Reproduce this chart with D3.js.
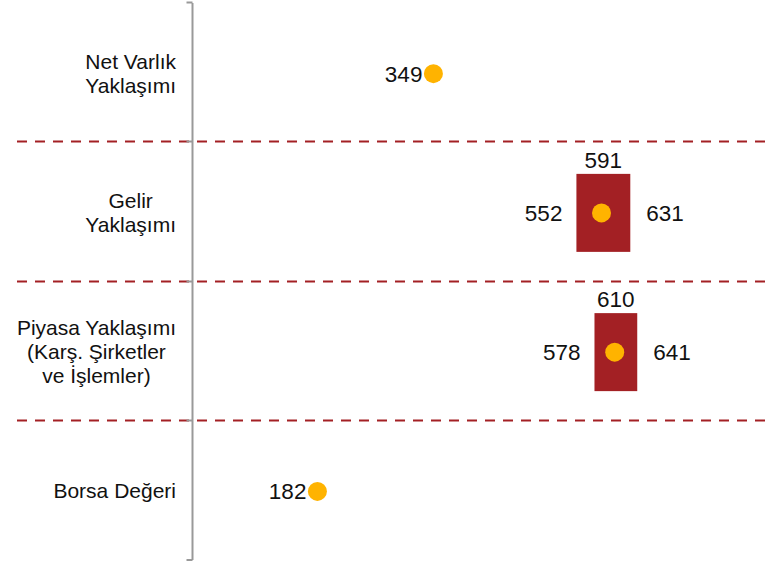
<!DOCTYPE html>
<html>
<head>
    <script src="https://d3js.org/d3.v7.min.js"></script>
    <style>
        body { margin: 0; background: white; }
        text { font-family: "Liberation Sans", Arial, sans-serif; font-size: 21px; fill: #111; }
        text.num { font-size: 22.5px; }
    </style>
</head>
<body>
<svg id="chart"></svg>
<script>
    // categories (top to bottom), each line of a label is an entry
    const categories = [
        ['Net Varlık', 'Yaklaşımı'],
        ['Gelir', 'Yaklaşımı'],
        ['Piyasa Yaklaşımı', '(Karş. Şirketler', 've İşlemler)'],
        ['Borsa Değeri']
    ];
    const pointValues = [349, 591, 610, 182];
    const lowValues = [null, 552, 578, null];
    const highValues = [null, 631, 641, null];

    const W = 766, H = 563;
    const svg = d3.select('#chart').attr('width', W).attr('height', H);

    const x = d3.scaleLinear().domain([0, 800]).range([190, 190 + 800 * 0.6946]);
    const y = d3.scaleBand().domain(d3.range(categories.length)).range([3, 560]);

    const red = '#A32024', gold = '#FFB300';

    // dashed separators between categories
    svg.selectAll('.sep')
       .data(d3.range(1, categories.length))
       .join('line')
       .attr('x1', 17).attr('x2', W)
       .attr('y1', d => Math.round(y(d)) - 0.5).attr('y2', d => Math.round(y(d)) - 0.5)
       .attr('stroke', red).attr('stroke-width', 2)
       .attr('stroke-dasharray', '10,8');

    // left axis as bracket
    const axisX = 192.5;
    svg.append('line').attr('x1', axisX).attr('x2', axisX).attr('y1', 3).attr('y2', 560)
       .attr('stroke', '#999').attr('stroke-width', 2);
    svg.selectAll('.tick')
       .data(d3.range(0, categories.length + 1))
       .join('line')
       .attr('x1', axisX - 6).attr('x2', axisX)
       .attr('y1', d => d === categories.length ? 560 : Math.round(y(d)) - 0.5)
       .attr('y2', d => d === categories.length ? 560 : Math.round(y(d)) - 0.5)
       .attr('stroke', '#999').attr('stroke-width', 2);

    // category labels: centred lines, block right-aligned next to the axis
    const labelRight = 176;
    categories.forEach((lines, i) => {
        const cy = y(i) + y.bandwidth() / 2;
        const lh = 24;
        const t = svg.append('text').attr('text-anchor', 'middle');
        const spans = lines.map((l, j) =>
            t.append('tspan')
             .attr('y', cy + (j - (lines.length - 1) / 2) * lh + 8)
             .text(l));
        const maxW = d3.max(spans, s => s.node().getComputedTextLength());
        spans.forEach(s => s.attr('x', labelRight - maxW / 2));
    });

    const boxH = 78;
    // range boxes
    categories.forEach((c, i) => {
        const cy = y(i) + y.bandwidth() / 2;
        if (lowValues[i] !== null) {
            const x0 = x(lowValues[i]) + 3, x1 = x(highValues[i]) + 2;
            svg.append('rect')
               .attr('x', x0).attr('y', cy - boxH / 2 + 1)
               .attr('width', x1 - x0).attr('height', boxH)
               .attr('fill', red);
            svg.append('text').attr('class', 'num').attr('x', x0 - 14).attr('y', cy + 9)
               .attr('text-anchor', 'end').text(lowValues[i]);
            svg.append('text').attr('class', 'num').attr('x', x1 + 16).attr('y', cy + 9)
               .attr('text-anchor', 'start').text(highValues[i]);
            svg.append('text').attr('class', 'num').attr('x', (x0 + x1) / 2).attr('y', cy - boxH / 2 - 5)
               .attr('text-anchor', 'middle').text(pointValues[i]);
        } else {
            svg.append('text').attr('class', 'num').attr('x', x(pointValues[i]) - 10).attr('y', cy + 9)
               .attr('text-anchor', 'end').text(pointValues[i]);
        }
        svg.append('circle')
           .attr('cx', x(pointValues[i]) + 1).attr('cy', cy + 1)
           .attr('r', 9.5).attr('fill', gold);
    });
</script>
</body>
</html>
